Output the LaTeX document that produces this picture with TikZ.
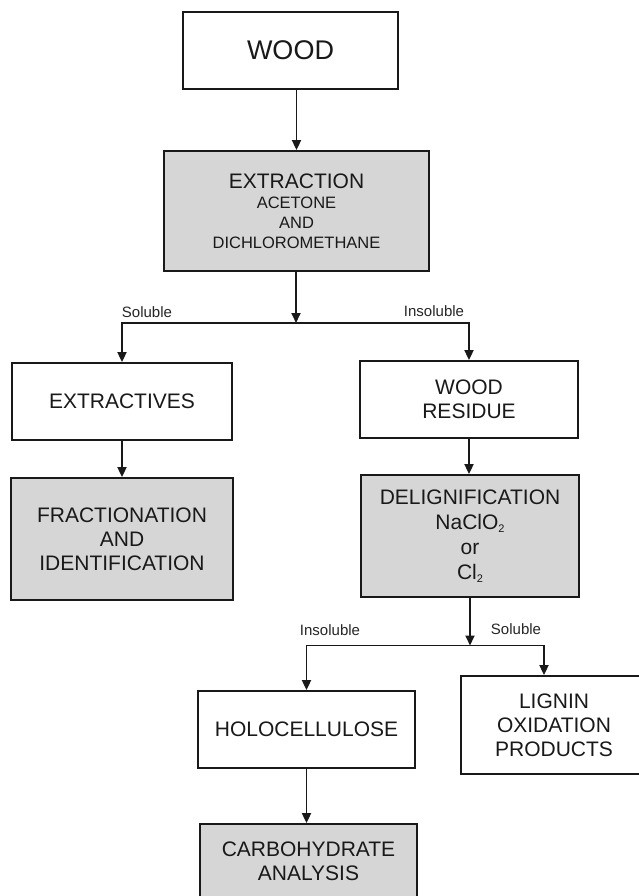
\documentclass[tikz,border=0pt]{standalone}
\usepackage{fontspec}
\setmainfont{Liberation Sans}
\usetikzlibrary{arrows.meta}

\newcommand{\smallsub}[1]{\raisebox{-3pt}{\fontsize{11}{12}\selectfont #1}}

\tikzset{
  box/.style={draw=black!90, line width=1.8pt, rectangle, align=center,
    inner sep=0pt, text=black!90, font=\fontsize{21}{24}\selectfont},
  shaded/.style={box, fill=black!16},
  plain/.style={box, fill=white},
  arr/.style={draw=black!90, line width=1.8pt,
    -{Triangle[length=10pt,width=9pt]}},
  lbl/.style={font=\fontsize{15}{17}\selectfont, text=black!85, inner sep=0pt}
}

\begin{document}
\begin{tikzpicture}[x=1pt, y=-1pt]
  \useasboundingbox (0,0) rectangle (639,896);
  \clip (0,0) rectangle (639,896);
  \fill[white] (0,0) rectangle (639,896);

  % boxes
  \node[plain, minimum width=215pt, minimum height=77pt,
        font=\fontsize{27}{30}\selectfont] (wood) at (290.5,50.5) {WOOD};

  \node[shaded, minimum width=265pt, minimum height=120pt] (extraction) at (296.5,211)
    {EXTRACTION\\[-4pt]
     {\fontsize{16.5}{18}\selectfont ACETONE}\\[-4pt]
     {\fontsize{16.5}{18}\selectfont AND}\\[-4pt]
     {\fontsize{16.5}{18}\selectfont DICHLOROMETHANE}};

  \node[plain, minimum width=220pt, minimum height=77pt] (extractives) at (122,401.5)
    {EXTRACTIVES};

  \node[plain, minimum width=218pt, minimum height=77pt] (residue) at (469,399.5)
    {WOOD\\RESIDUE};

  \node[shaded, minimum width=222pt, minimum height=122pt] (fraction) at (122,539)
    {FRACTIONATION\\AND\\IDENTIFICATION};

  \node[shaded, minimum width=218pt, minimum height=122pt] (delig) at (470,536)
    {DELIGNIFICATION\\[1pt]NaClO\smallsub{2}\\[1pt]or\\[1pt]Cl\smallsub{2}};

  \node[plain, minimum width=217pt, minimum height=77pt] (holo) at (306.5,729.5)
    {HOLOCELLULOSE};

  \node[plain, minimum width=186pt, minimum height=98pt] (lignin) at (554,725)
    {LIGNIN\\OXIDATION\\PRODUCTS};

  \node[shaded, minimum width=217pt, minimum height=122pt] (carbo) at (308.5,885) {};
  \node[box, draw=none, fill=none] (carbotext) at (308.5,861)
    {CARBOHYDRATE\\ANALYSIS};

  % branch points
  \coordinate (j1) at (296,323);
  \coordinate (j2) at (470,645.5);

  % connectors
  \draw[arr] (wood.south -| extraction.north) -- (extraction.north);
  \draw[arr] (extraction.south -| j1) -- (j1);
  \draw[arr] (j1) -| (extractives.north);
  \draw[arr] (j1) -| (residue.north);
  \draw[arr] (extractives) -- (fraction);
  \draw[arr] (residue) -- (residue.south |- delig.north);
  \draw[arr] (delig.south -| j2) -- (j2);
  \draw[arr] (j2) -| (holo.north);
  \draw[arr] (j2) -| ([xshift=-10pt]lignin.north);
  \draw[arr] (holo) -- (carbo.north -| holo);

  % branch labels
  \node[lbl] (sol1) at (147,312) {Soluble};
  \node[lbl] (ins1) at (434,311) {Insoluble};
  \node[lbl] (ins2) at (330,630) {Insoluble};
  \node[lbl] (sol2) at (516,629) {Soluble};
\end{tikzpicture}
\end{document}
